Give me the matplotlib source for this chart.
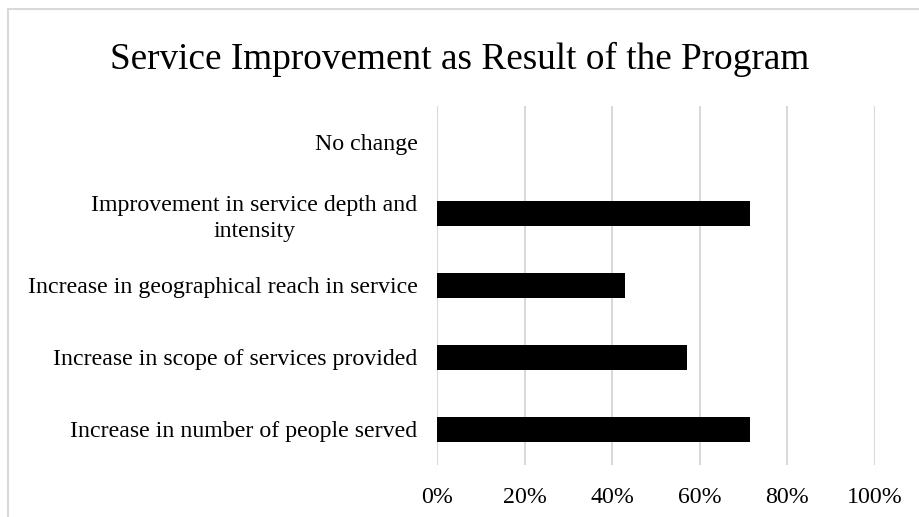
import matplotlib.pyplot as plt
import matplotlib.patches as patches
from matplotlib.ticker import PercentFormatter

categories = ["Increase in number of people served",
              "Increase in scope of services provided",
              "Increase in geographical reach in service",
              "Improvement in service depth and\nintensity",
              "No change"]
values = [0.714, 0.571, 0.429, 0.714, 0.0]
x_ticks = [0, 0.2, 0.4, 0.6, 0.8, 1.0]

plt.rcParams['font.family'] = ['Liberation Serif', 'DejaVu Serif']

W, H = 919, 517
fig = plt.figure(figsize=(W / 100, H / 100), dpi=100)
ax = fig.add_axes([437 / W, 1 - 465 / H, (875 - 437) / W, (465 - 106) / H])

ax.barh(range(len(categories)), values, height=0.35, color="black", zorder=3)
ax.set_ylim(-0.5, len(categories) - 0.5)
ax.set_xlim(0, 1)
ax.set_xticks(x_ticks)
ax.xaxis.set_major_formatter(PercentFormatter(1.0, decimals=0))
ax.set_yticks(range(len(categories)))
ax.set_yticklabels(categories, multialignment="center", linespacing=1.3)
ax.grid(axis="x", color="#d9d9d9", lw=1.5, zorder=0)
for s in ax.spines.values():
    s.set_visible(False)
ax.tick_params(axis="both", length=0, labelsize=17.2, colors="black")
ax.tick_params(axis="y", pad=14)
ax.tick_params(axis="x", pad=16)

fig.text(0.5, 1 - 59 / H, "Service Improvement as Result of the Program",
         ha="center", va="center", fontsize=26.8)

# light gray chart border
fig.add_artist(patches.Rectangle((8 / W, -0.1), 1.2, 1 - 9 / H + 0.1, fill=False,
                                 edgecolor="#d9d9d9", lw=1.5, transform=fig.transFigure))

fig.savefig("out.png", dpi=100)
